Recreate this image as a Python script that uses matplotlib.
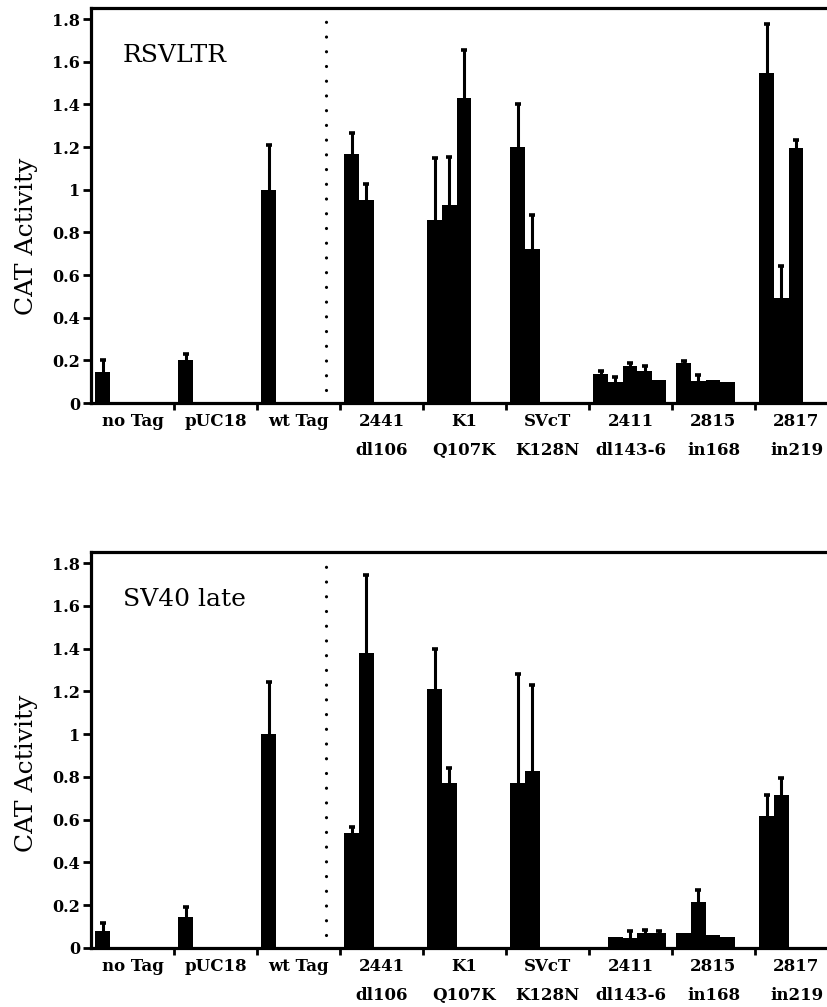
import matplotlib
matplotlib.use('Agg')
import matplotlib.pyplot as plt
import numpy as np

# group labels along the x axis
groups = ['no Tag', 'pUC18', 'wt Tag', '2441\ndl106', 'K1\nQ107K',
          'SVcT\nK128N', '2411\ndl143-6', '2815\nin168', '2817\nin219']

# RSVLTR panel: bar heights and upper error per group
rsv_values = [[0.145], [0.20], [1.0], [1.165, 0.95], [0.86, 0.93, 1.43],
              [1.20, 0.72], [0.136, 0.10, 0.175, 0.148, 0.108],
              [0.186, 0.105, 0.108, 0.098], [1.545, 0.49, 1.195]]
rsv_errors = [[0.055], [0.03], [0.21], [0.10, 0.075], [0.29, 0.225, 0.225],
              [0.20, 0.16], [0.014, 0.023, 0.011, 0.025, 0.0],
              [0.009, 0.028, 0.0, 0.0], [0.23, 0.15, 0.037]]

# SV40 late panel
sv40_values = [[0.08], [0.143], [1.0], [0.538, 1.38], [1.213, 0.773],
               [0.773, 0.827], [0.006, 0.05, 0.045, 0.068, 0.07],
               [0.068, 0.215, 0.062, 0.05], [0.616, 0.714]]
sv40_errors = [[0.036], [0.047], [0.245], [0.028, 0.363], [0.184, 0.067],
               [0.51, 0.403], [0.0, 0.0, 0.035, 0.018, 0.01],
               [0.0, 0.058, 0.0, 0.0], [0.101, 0.083]]

yticks = [0, 0.2, 0.4, 0.6, 0.8, 1.0, 1.2, 1.4, 1.6, 1.8]
ytick_labels = ['0', '0.2', '0.4', '0.6', '0.8', '1', '1.2', '1.4', '1.6', '1.8']

plt.rcParams['font.family'] = ['DejaVu Serif']

BAR_W = 0.176
OFFSET = 0.054


def draw_panel(ax, values, errors, title, label_y):
    for i, (vals, errs) in enumerate(zip(values, errors)):
        xs = i + OFFSET + BAR_W * (np.arange(len(vals)) + 0.5)
        vals = np.array(vals)
        errs = np.array(errs)
        ax.bar(xs, vals, width=BAR_W, color='black', linewidth=0, zorder=2)
        m = errs > 0
        if m.any():
            eb = ax.errorbar(xs[m], vals[m], yerr=[np.zeros(m.sum()), errs[m]],
                             fmt='none', ecolor='black', elinewidth=2.2,
                             capsize=2.3, capthick=2.6, zorder=3)
            # only the upper cap is drawn
            eb[1][0].set_visible(False)

    # dotted separator between controls and mutants
    ax.plot([2.83, 2.83], [0.06, 1.83], color='black', linewidth=2.3,
            linestyle=(0, (0.01, 4.6)), dash_capstyle='round', zorder=1)

    ax.set_xlim(0, 8.88)
    ax.set_ylim(0, 1.852)
    for s in ['left', 'top', 'bottom']:
        ax.spines[s].set_linewidth(2.3)
    ax.spines['right'].set_visible(False)

    ax.set_yticks(yticks)
    ax.set_yticklabels(ytick_labels, fontsize=11.5, fontweight='bold')
    ax.tick_params(axis='y', direction='out', length=6, width=2, pad=2)

    ax.set_xticks(np.arange(1, 9))
    ax.set_xticklabels([])
    ax.tick_params(axis='x', which='major', direction='out', length=5, width=2)
    ax.set_xticks(np.arange(len(groups)) + 0.5, minor=True)
    ax.set_xticklabels(groups, minor=True, fontsize=12, fontweight='bold',
                       linespacing=1.95, va='top')
    ax.tick_params(axis='x', which='minor', length=0, pad=7)

    ax.set_ylabel('CAT Activity', fontsize=18)
    ax.yaxis.set_label_coords(-0.072, label_y)
    ax.text(0.385, 1.63, title, fontsize=18, va='center', ha='left')


fig = plt.figure(figsize=(8.28, 10.07), dpi=100)
ax1 = fig.add_axes([0.1099, 0.5998, 0.8901, 0.3923])
ax2 = fig.add_axes([0.1099, 0.0586, 0.8901, 0.3932])

draw_panel(ax1, rsv_values, rsv_errors, 'RSVLTR', 0.423)
draw_panel(ax2, sv40_values, sv40_errors, 'SV40 late', 0.44)

fig.savefig('out.png', dpi=100)
